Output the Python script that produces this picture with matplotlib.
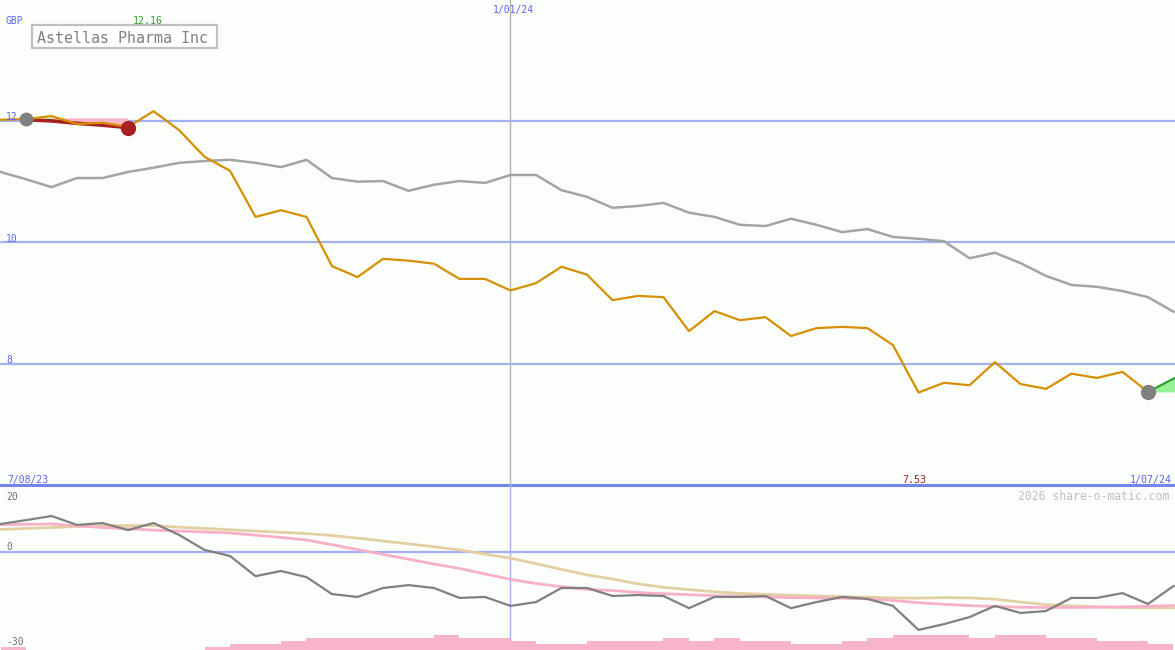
# -*- coding:UTF-8 -*-
# Astellas Pharma Inc - weekly price chart with momentum panel
import matplotlib
matplotlib.use("Agg")
import matplotlib.pyplot as plt
from matplotlib.patches import Rectangle

# ---------------------------------------------------#
# data (weekly, index -1 .. 45)
# ---------------------------------------------------#
weeks = list(range(-1, 46))
price = [12.02, 12.03, 12.08, 11.95, 11.97, 11.90, 12.16, 11.85, 11.41, 11.18, 10.42, 10.53, 10.42,
         9.61, 9.43, 9.73, 9.70, 9.65, 9.40, 9.40, 9.21, 9.33, 9.60, 9.47, 9.05, 9.12, 9.10,
         8.54, 8.87, 8.72, 8.77, 8.46, 8.59, 8.61, 8.59, 8.31, 7.53, 7.69, 7.65, 8.03, 7.67,
         7.59, 7.84, 7.77, 7.87, 7.54]
index_rel = [11.16, 11.04, 10.91, 11.06, 11.06, 11.16, 11.23, 11.31, 11.34, 11.36, 11.31, 11.24, 11.36,
             11.06, 11.00, 11.01, 10.85, 10.95, 11.01, 10.98, 11.11, 11.11, 10.86, 10.75, 10.57, 10.60,
             10.65, 10.49, 10.42, 10.29, 10.27, 10.39, 10.29, 10.17, 10.22, 10.09, 10.06, 10.02, 9.74,
             9.83, 9.66, 9.45, 9.30, 9.27, 9.20, 9.10, 8.86]
trend_weeks = [0, 1, 2, 3, 4]
trend = [12.02, 12.00, 11.96, 11.93, 11.89]
start_level = 12.05
end_weeks = [44, 45.06]
end_trend = [7.54, 7.77]

momentum = [8.6, 9.8, 11.1, 8.3, 8.9, 6.7, 8.9, 5.2, 0.5, -1.4, -7.7, -6.1, -8.0, -13.3, -14.2,
            -11.4, -10.5, -11.4, -14.5, -14.2, -17.0, -15.8, -11.4, -11.4, -13.9, -13.6, -13.9,
            -17.7, -14.2, -14.2, -13.9, -17.7, -15.8, -14.2, -14.8, -17.0, -24.5, -22.7, -20.5,
            -17.0, -19.2, -18.6, -14.5, -14.5, -13.0, -16.4, -10.8]
ma_fast = [8.4, 8.5, 8.6, 8.0, 7.5, 7.1, 6.7, 6.4, 6.1, 5.8, 5.1, 4.4, 3.6, 2.1, 0.6, -0.9, -2.4,
           -3.9, -5.3, -7.0, -8.7, -10.0, -11.0, -11.8, -12.2, -12.8, -13.2, -13.5, -13.8, -14.0,
           -14.2, -14.4, -14.5, -14.6, -14.8, -15.3, -16.0, -16.5, -16.9, -17.2, -17.4, -17.5,
           -17.5, -17.4, -17.3, -17.1, -16.9]
ma_slow = [6.9, 7.2, 7.5, 7.8, 8.1, 8.1, 8.1, 7.6, 7.2, 6.8, 6.4, 6.0, 5.6, 5.0, 4.2, 3.3, 2.4,
           1.5, 0.5, -0.8, -2.1, -3.8, -5.6, -7.3, -8.6, -10.1, -11.2, -11.9, -12.6, -13.1, -13.4,
           -13.7, -13.9, -14.1, -14.3, -14.5, -14.6, -14.4, -14.5, -14.9, -15.8, -16.6, -17.0,
           -17.3, -17.5, -17.6, -17.6]
# volume level per week segment (left edge -1 .. 44)
vol_weeks = list(range(-1, 45))
vol_level = [1, 0, 0, 0, 0, 0, 0, 0, 1, 2, 2, 3, 4, 4, 4, 4, 4, 5, 4, 4, 3, 2, 2, 3, 3, 3, 4, 3,
             4, 3, 3, 2, 2, 3, 4, 5, 5, 5, 4, 5, 5, 4, 4, 3, 3, 2]

main_grid = [8, 10, 12]
main_labels = ["8", "10", "12"]
lower_labels = ["20", "0", "-30"]
date_labels = ["7/08/23", "1/01/24", "1/07/24"]
year_week = 19

# ---------------------------------------------------#
# styles
# ---------------------------------------------------#
bg = "#fcfefc"
grid_c = "#a3b1f2"
sep_c = "#7386ec"
lab_blue = "#5a64f0"
mono = "DejaVu Sans Mono"
W, H = 1175, 650
x_lim = (-1.02, 45.06)


def ftext(x, y, s, **kw):
    # place text in pixel coordinates (top-left origin)
    fig.text(x / W, 1 - y / H, s, family=mono, **kw)


fig = plt.figure(figsize=(W / 100, H / 100), dpi=100, facecolor=bg)

# ---------------------------------------------------#
# main panel
# ---------------------------------------------------#
ax1 = fig.add_axes([0, 163 / H, 1, 487 / H], facecolor=bg)
ax1.set_xlim(*x_lim)
ax1.set_ylim(5.975, 13.99)
ax1.axis("off")
for g in main_grid:
    ax1.axhline(g, color=grid_c, lw=1.6, zorder=1)
ax1.axhline(6.0, color=sep_c, lw=2.2, zorder=1, clip_on=False)
ax1.axvline(year_week, color="#b4b4b4", lw=1, zorder=1)

ax1.plot(weeks, index_rel, color="#a4a4a4", lw=1.8, zorder=2)
ax1.fill_between(trend_weeks[1:], start_level, trend[1:], color="#f8b4c8", lw=0, zorder=2)
ax1.fill_between([0.6, 1.0], [trend[0] + 0.01, 12.07], [trend[0], trend[1]], color="#98f098",
                 lw=0, zorder=2)
ax1.fill_between(end_weeks, end_trend[0], end_trend, color="#98f098", lw=0, zorder=2)
ax1.plot(end_weeks, end_trend, color="#30a030", lw=1.6, zorder=3)
ax1.plot(trend_weeks, trend, color="#a82020", lw=2.6, zorder=3)
ax1.plot(weeks[:-1], price, color="#d49000", lw=1.6, zorder=4)
ax1.plot([trend_weeks[0]], [price[1]], "o", color="#808080", ms=9, zorder=5)
ax1.plot([trend_weeks[-1]], [trend[-1]], "o", color="#a82020", ms=10, zorder=5)
ax1.plot([weeks[-2]], [price[-1]], "o", color="#808080", ms=10, zorder=5)

# ---------------------------------------------------#
# lower panel
# ---------------------------------------------------#
ax2 = fig.add_axes([0, 0, 1, 163 / H], facecolor=bg)
ax2.set_xlim(*x_lim)
ax2.set_ylim(-30.78, 20.16)
ax2.axis("off")
ax2.axhline(0, color=grid_c, lw=1.6, zorder=1)
ax2.axvline(year_week, color=grid_c, lw=1, zorder=1)
ax2.bar(vol_weeks, [v * 3 / 3.2 for v in vol_level], width=1.0, bottom=-30.78, align="edge",
        color="#f8b4c8", lw=0, zorder=1)
ax2.plot(weeks, ma_slow, color="#e2d0a2", lw=2, zorder=2)
ax2.plot(weeks, ma_fast, color="#f8b0c8", lw=2, zorder=2)
ax2.plot(weeks, momentum, color="#808080", lw=1.6, zorder=3)

# ---------------------------------------------------#
# texts
# ---------------------------------------------------#
ftext(6, 24, "GBP", color=lab_blue, fontsize=7)
ftext(133, 24, "12.16", color="#30a030", fontsize=7.2)
ftext(493, 13, date_labels[1], color=lab_blue, fontsize=7)
for g, s in zip(main_grid, main_labels):
    ftext(6, 121 + (12 - g) * 60.75 - 1, s, color=lab_blue, fontsize=7)
ftext(7, 483, date_labels[0], color=lab_blue, fontsize=7)
ftext(902, 483, "7.53", color="#a82020", fontsize=7.2)
ftext(1130, 483, date_labels[2], color=lab_blue, fontsize=7.2)
ftext(1018, 500, "2026 share-o-matic.com", color="#c0c0c0", fontsize=8.3)
for y, s in zip([500, 550, 645], lower_labels):
    ftext(6, y, s, color="#707070", fontsize=7)

fig.patches.append(Rectangle((32 / W, 1 - 48 / H), 185 / W, 23 / H, transform=fig.transFigure,
                             facecolor="white", edgecolor="#c0c0c0", lw=1.6, zorder=5))
ftext(37, 43, "Astellas Pharma Inc", color="#808080", fontsize=10.8, zorder=6)

plt.savefig("out.png", dpi=100, facecolor=bg)
plt.close()
